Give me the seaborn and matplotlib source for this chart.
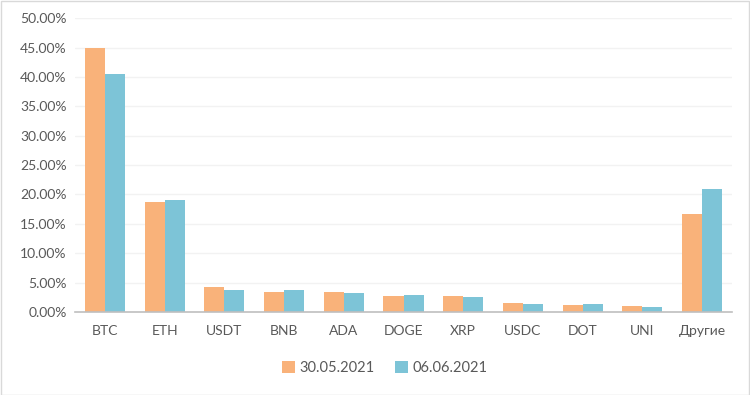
import matplotlib
matplotlib.use("Agg")
import matplotlib.pyplot as plt
import seaborn as sns
import pandas as pd
from matplotlib.patches import Rectangle
from matplotlib.ticker import FuncFormatter, FixedLocator

categories = ["BTC", "ETH", "USDT", "BNB", "ADA", "DOGE", "XRP", "USDC", "DOT", "UNI", "Другие"]
series_names = ["30.05.2021", "06.06.2021"]
values_0530 = [44.85, 18.65, 4.20, 3.35, 3.45, 2.68, 2.79, 1.48, 1.20, 0.97, 16.60]
values_0606 = [40.50, 19.05, 3.74, 3.69, 3.28, 2.90, 2.62, 1.37, 1.37, 0.92, 20.86]
colors = ["#F9B27A", "#7DC4D7"]

df = pd.DataFrame({
    "cat": categories * 2,
    "series": [series_names[0]] * len(categories) + [series_names[1]] * len(categories),
    "value": values_0530 + values_0606,
})

sns.set_theme(style="white")
plt.rcParams["font.family"] = ["Lato", "DejaVu Sans"]

fig = plt.figure(figsize=(7.5, 3.95), dpi=100)
ax = fig.add_axes([0.1, 0.21, 0.876, 0.744])

sns.barplot(data=df, x="cat", y="value", hue="series", palette=colors,
            width=0.67, gap=0, ax=ax, legend=True, saturation=1, edgecolor="none")

ax.set_ylim(0, 50)
ax.set_xlim(-0.5, len(categories) - 0.5)
ax.set_yticks([0, 5, 10, 15, 20, 25, 30, 35, 40, 45, 50])
ax.yaxis.set_major_formatter(FuncFormatter(lambda v, p: f"{v:.2f}%"))
ax.grid(axis="y", color="#F2F2F2", linewidth=1)
ax.set_axisbelow(True)
ax.set_xlabel("")
ax.set_ylabel("")

for s in ["top", "right", "left"]:
    ax.spines[s].set_visible(False)
ax.spines["bottom"].set_color("#BFBFBF")
ax.spines["bottom"].set_linewidth(1.2)

ax.tick_params(axis="y", length=0, labelsize=10, labelcolor="#595959", pad=6)
ax.tick_params(axis="x", which="major", length=0, labelsize=10, labelcolor="#595959", pad=9)
ax.xaxis.set_minor_locator(FixedLocator([i - 0.5 for i in range(len(categories) + 1)]))
ax.tick_params(axis="x", which="minor", length=5, width=1.2, color="#BFBFBF", direction="out")

leg = ax.legend(loc="center", bbox_to_anchor=(0.472, -0.19), ncol=2, frameon=False,
                fontsize=10.5, handlelength=0.9, handleheight=0.9, handletextpad=0.3,
                columnspacing=1.4)
for t in leg.get_texts():
    t.set_color("#595959")

fig.patches.append(Rectangle((0.001, 0.001), 0.997, 0.997, transform=fig.transFigure,
                             fill=False, edgecolor="#D9D9D9", linewidth=1))

fig.savefig("out.png", dpi=100)
